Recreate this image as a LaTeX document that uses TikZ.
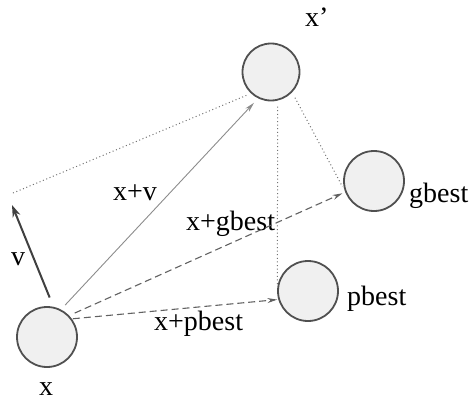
\documentclass[tikz,border=0pt]{standalone}
\usepackage{fontspec}
\setmainfont{Liberation Serif}
\usetikzlibrary{arrows.meta}
\definecolor{circfill}{HTML}{F0F0F0}
\definecolor{circdraw}{HTML}{505050}
\tikzset{
  pt/.style={circle, draw=circdraw, line width=1.8pt, fill=circfill, minimum size=60pt, inner sep=0pt},
  lbl/.style={font=\fontsize{28}{31}\selectfont, inner sep=0pt},
  vvec/.style={draw=black!75, line width=2pt, -{Stealth[length=12pt,width=8pt]}},
  solidarr/.style={draw=black!45, line width=0.9pt, -{Stealth[length=10pt,width=5pt]}},
  dasharr/.style={draw=black!62, line width=1.1pt, dash pattern=on 7pt off 4pt, -{Stealth[length=10pt,width=5pt]}},
  dotline/.style={draw=black!55, line width=1pt, dash pattern=on 1pt off 2.6pt},
}
\begin{document}
\begin{tikzpicture}[x=1pt,y=1pt]
\useasboundingbox (0,0) rectangle (471,400);
% circles
\node[pt] (x) at (47,63) {};
\node[pt, minimum size=57pt] (xp) at (271,328) {};
\node[pt] (g) at (374,219) {};
\node[pt] (p) at (308,109) {};
% free ends
\coordinate (vt) at (12,195);
\coordinate (vd) at (13,207);
% labels
\node[lbl, anchor=base west] (lxp) at (305,373) {x’};
\node[lbl, anchor=base] (lx) at (46,5) {x};
\node[lbl, anchor=base west] (lg) at (409,198) {gbest};
\node[lbl, anchor=base west] (lp) at (347,95) {pbest};
\node[lbl, anchor=base] (lv) at (18,135) {v};
\node[lbl, anchor=base west] (lxv) at (113,200) {x+v};
\node[lbl, anchor=base west] (lxg) at (186,170) {x+gbest};
\node[lbl, anchor=base west] (lxpb) at (154,70) {x+pbest};
% dotted construction lines
\draw[dotline, shorten >=5pt] (vd) -- (xp.227);
\draw[dotline, shorten <=6pt] (xp.283) -- (p.172);
\draw[dotline, shorten <=6pt, shorten >=5pt] (xp.316) -- (g.199);
% vectors
\draw[vvec, shorten <=10pt] (x.78) -- (vt);
\draw[solidarr, shorten <=6pt, shorten >=6pt] (x.63) -- (xp.244);
\draw[dasharr, shorten <=6pt, shorten >=3pt] (x.44) -- (g.201);
\draw[dasharr, shorten <=1pt, shorten >=1pt] (x.36) -- (p.196);
\end{tikzpicture}
\end{document}
